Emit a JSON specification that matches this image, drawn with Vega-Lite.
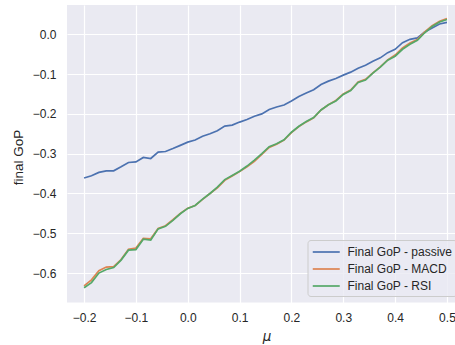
{
  "$schema": "https://vega.github.io/schema/vega-lite/v6.json",
  "autosize": {"type": "none"},
  "padding": {"left": 67, "top": 5, "right": 0, "bottom": 42.5},
  "width": 388,
  "height": 297.5,
  "background": "#ffffff",
  "config": {
    "view": {"fill": "#eaeaf2", "stroke": null},
    "font": "Liberation Sans",
    "axis": {
      "domain": false,
      "ticks": false,
      "grid": true,
      "gridColor": "#ffffff",
      "gridWidth": 1.2,
      "labelFont": "Liberation Sans",
      "labelFontSize": 12,
      "labelColor": "#262626",
      "labelPadding": 10,
      "titleFont": "Liberation Sans",
      "titleFontSize": 13.5,
      "titleFontWeight": "normal",
      "titleColor": "#262626"
    }
  },
  "data": {
    "values": [
      {"mu": -0.2, "Final GoP - passive": -0.361, "Final GoP - MACD": -0.632, "Final GoP - RSI": -0.637},
      {"mu": -0.1857, "Final GoP - passive": -0.3555, "Final GoP - MACD": -0.617, "Final GoP - RSI": -0.624},
      {"mu": -0.1714, "Final GoP - passive": -0.347, "Final GoP - MACD": -0.594, "Final GoP - RSI": -0.6},
      {"mu": -0.1571, "Final GoP - passive": -0.343, "Final GoP - MACD": -0.585, "Final GoP - RSI": -0.591},
      {"mu": -0.1429, "Final GoP - passive": -0.343, "Final GoP - MACD": -0.584, "Final GoP - RSI": -0.586},
      {"mu": -0.1286, "Final GoP - passive": -0.333, "Final GoP - MACD": -0.566, "Final GoP - RSI": -0.5675},
      {"mu": -0.1143, "Final GoP - passive": -0.322, "Final GoP - MACD": -0.54, "Final GoP - RSI": -0.5425},
      {"mu": -0.1, "Final GoP - passive": -0.3205, "Final GoP - MACD": -0.537, "Final GoP - RSI": -0.541},
      {"mu": -0.0857, "Final GoP - passive": -0.3095, "Final GoP - MACD": -0.513, "Final GoP - RSI": -0.515},
      {"mu": -0.0714, "Final GoP - passive": -0.312, "Final GoP - MACD": -0.514, "Final GoP - RSI": -0.517},
      {"mu": -0.0571, "Final GoP - passive": -0.296, "Final GoP - MACD": -0.488, "Final GoP - RSI": -0.489},
      {"mu": -0.0429, "Final GoP - passive": -0.2945, "Final GoP - MACD": -0.481, "Final GoP - RSI": -0.4825},
      {"mu": -0.0286, "Final GoP - passive": -0.287, "Final GoP - MACD": -0.466, "Final GoP - RSI": -0.4675},
      {"mu": -0.0143, "Final GoP - passive": -0.279, "Final GoP - MACD": -0.45, "Final GoP - RSI": -0.451},
      {"mu": 0, "Final GoP - passive": -0.271, "Final GoP - MACD": -0.437, "Final GoP - RSI": -0.4375},
      {"mu": 0.0143, "Final GoP - passive": -0.2655, "Final GoP - MACD": -0.43, "Final GoP - RSI": -0.43},
      {"mu": 0.0286, "Final GoP - passive": -0.256, "Final GoP - MACD": -0.415, "Final GoP - RSI": -0.414},
      {"mu": 0.0429, "Final GoP - passive": -0.25, "Final GoP - MACD": -0.4, "Final GoP - RSI": -0.4},
      {"mu": 0.0571, "Final GoP - passive": -0.2425, "Final GoP - MACD": -0.386, "Final GoP - RSI": -0.384},
      {"mu": 0.0714, "Final GoP - passive": -0.2305, "Final GoP - MACD": -0.367, "Final GoP - RSI": -0.365},
      {"mu": 0.0857, "Final GoP - passive": -0.228, "Final GoP - MACD": -0.356, "Final GoP - RSI": -0.3545},
      {"mu": 0.1, "Final GoP - passive": -0.2205, "Final GoP - MACD": -0.345, "Final GoP - RSI": -0.344},
      {"mu": 0.1143, "Final GoP - passive": -0.214, "Final GoP - MACD": -0.333, "Final GoP - RSI": -0.331},
      {"mu": 0.1286, "Final GoP - passive": -0.206, "Final GoP - MACD": -0.319, "Final GoP - RSI": -0.316},
      {"mu": 0.1429, "Final GoP - passive": -0.2, "Final GoP - MACD": -0.302, "Final GoP - RSI": -0.3},
      {"mu": 0.1571, "Final GoP - passive": -0.189, "Final GoP - MACD": -0.284, "Final GoP - RSI": -0.2825},
      {"mu": 0.1714, "Final GoP - passive": -0.1825, "Final GoP - MACD": -0.276, "Final GoP - RSI": -0.275},
      {"mu": 0.1857, "Final GoP - passive": -0.1775, "Final GoP - MACD": -0.266, "Final GoP - RSI": -0.265},
      {"mu": 0.2, "Final GoP - passive": -0.1675, "Final GoP - MACD": -0.247, "Final GoP - RSI": -0.246},
      {"mu": 0.2143, "Final GoP - passive": -0.156, "Final GoP - MACD": -0.232, "Final GoP - RSI": -0.231},
      {"mu": 0.2286, "Final GoP - passive": -0.1475, "Final GoP - MACD": -0.22, "Final GoP - RSI": -0.219},
      {"mu": 0.2429, "Final GoP - passive": -0.139, "Final GoP - MACD": -0.21, "Final GoP - RSI": -0.209},
      {"mu": 0.2571, "Final GoP - passive": -0.126, "Final GoP - MACD": -0.19, "Final GoP - RSI": -0.19},
      {"mu": 0.2714, "Final GoP - passive": -0.1175, "Final GoP - MACD": -0.177, "Final GoP - RSI": -0.177},
      {"mu": 0.2857, "Final GoP - passive": -0.111, "Final GoP - MACD": -0.166, "Final GoP - RSI": -0.1675},
      {"mu": 0.3, "Final GoP - passive": -0.1025, "Final GoP - MACD": -0.15, "Final GoP - RSI": -0.151},
      {"mu": 0.3143, "Final GoP - passive": -0.095, "Final GoP - MACD": -0.14, "Final GoP - RSI": -0.141},
      {"mu": 0.3286, "Final GoP - passive": -0.085, "Final GoP - MACD": -0.12, "Final GoP - RSI": -0.121},
      {"mu": 0.3429, "Final GoP - passive": -0.0775, "Final GoP - MACD": -0.113, "Final GoP - RSI": -0.115},
      {"mu": 0.3571, "Final GoP - passive": -0.0675, "Final GoP - MACD": -0.097, "Final GoP - RSI": -0.0975},
      {"mu": 0.3714, "Final GoP - passive": -0.059, "Final GoP - MACD": -0.082, "Final GoP - RSI": -0.0825},
      {"mu": 0.3857, "Final GoP - passive": -0.046, "Final GoP - MACD": -0.064, "Final GoP - RSI": -0.065},
      {"mu": 0.4, "Final GoP - passive": -0.0375, "Final GoP - MACD": -0.052, "Final GoP - RSI": -0.055},
      {"mu": 0.4143, "Final GoP - passive": -0.021, "Final GoP - MACD": -0.034, "Final GoP - RSI": -0.0375},
      {"mu": 0.4286, "Final GoP - passive": -0.0125, "Final GoP - MACD": -0.022, "Final GoP - RSI": -0.025},
      {"mu": 0.4429, "Final GoP - passive": -0.009, "Final GoP - MACD": -0.013, "Final GoP - RSI": -0.015},
      {"mu": 0.4571, "Final GoP - passive": 0.006, "Final GoP - MACD": 0.006, "Final GoP - RSI": 0.004},
      {"mu": 0.4714, "Final GoP - passive": 0.016, "Final GoP - MACD": 0.022, "Final GoP - RSI": 0.02},
      {"mu": 0.4857, "Final GoP - passive": 0.026, "Final GoP - MACD": 0.033, "Final GoP - RSI": 0.031},
      {"mu": 0.5, "Final GoP - passive": 0.03, "Final GoP - MACD": 0.04, "Final GoP - RSI": 0.0375}
    ]
  },
  "transform": [
    {"fold": ["Final GoP - passive", "Final GoP - MACD", "Final GoP - RSI"], "as": ["series", "gop"]}
  ],
  "mark": {"type": "line", "strokeWidth": 1.7, "clip": true},
  "encoding": {
    "x": {
      "field": "mu",
      "type": "quantitative",
      "scale": {"domain": [-0.2329, 0.5155], "nice": false, "zero": false},
      "axis": {
        "values": [-0.2, -0.1, 0, 0.1, 0.2, 0.3, 0.4, 0.5],
        "format": ".1f",
        "labelFlush": false,
        "labelOverlap": false,
        "labelBound": false,
        "title": "μ",
        "titleFont": "DejaVu Sans",
        "titleFontStyle": "italic",
        "titleX": 199.5,
        "titleY": 34,
        "titleAlign": "center",
        "titleBaseline": "middle"
      }
    },
    "y": {
      "field": "gop",
      "type": "quantitative",
      "scale": {"domain": [-0.674, 0.0738], "nice": false, "zero": false},
      "axis": {
        "values": [-0.6, -0.5, -0.4, -0.3, -0.2, -0.1, 0],
        "format": ".1f",
        "labelFlush": false,
        "labelPadding": 11,
        "title": "final GoP",
        "titleX": -49,
        "titleY": 152,
        "titleAngle": -90,
        "titleAlign": "center",
        "titleBaseline": "middle"
      }
    },
    "color": {
      "field": "series",
      "type": "nominal",
      "scale": {
        "domain": ["Final GoP - passive", "Final GoP - MACD", "Final GoP - RSI"],
        "range": ["#4c72b0", "#dd8452", "#55a868"]
      },
      "legend": {
        "title": null,
        "orient": "none",
        "legendX": 240.5,
        "legendY": 235,
        "padding": 4,
        "fillColor": "rgba(234,234,242,0.8)",
        "strokeColor": "#cccccc",
        "cornerRadius": 3,
        "symbolType": "M-1,0H3",
        "symbolSize": 182,
        "symbolStrokeWidth": 1.7,
        "labelFont": "Liberation Sans",
        "labelFontSize": 12,
        "labelColor": "#262626",
        "labelOffset": 20,
        "rowPadding": 3
      }
    }
  }
}
